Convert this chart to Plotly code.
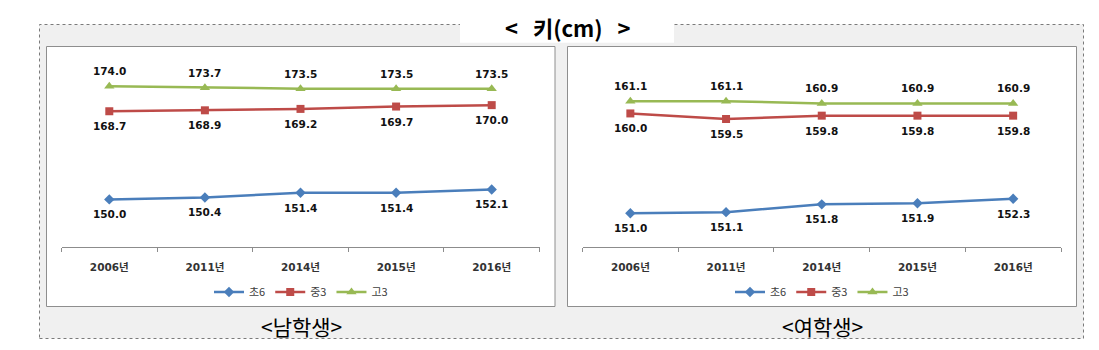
import plotly.graph_objects as go

W, H = 1099, 350

# ---- data ----
years = ["2006년", "2011년", "2014년", "2015년", "2016년"]
series_names = ["초6", "중3", "고3"]

boys_elem6 = [150.0, 150.4, 151.4, 151.4, 152.1]
boys_mid3 = [168.7, 168.9, 169.2, 169.7, 170.0]
boys_high3 = [174.0, 173.7, 173.5, 173.5, 173.5]

girls_elem6 = [151.0, 151.1, 151.8, 151.9, 152.3]
girls_mid3 = [160.0, 159.5, 159.8, 159.8, 159.8]
girls_high3 = [161.1, 161.1, 160.9, 160.9, 160.9]

title_text = "<\u00a0\u00a0 키(cm)\u00a0\u00a0 >"
captions = ["<남학생>", "<여학생>"]

# ---- styling ----
colors = ["#4a7ebb", "#be4b48", "#98b954"]
symbols = ["diamond", "square", "triangle-up"]
msizes = [8, 8, 9]
label_shift = [-15, -15, 15]   # value labels: below for 초6/중3, above for 고3
FONT = "DejaVu Sans, Noto Sans CJK KR, sans-serif"
CJK = "Noto Sans CJK KR, sans-serif"


def px(x):
    return x / W


def py(y):
    return 1 - y / H


fig = go.Figure()

panels = [
    dict(data=[boys_elem6, boys_mid3, boys_high3], xa="x", ya="y", legend="legend"),
    dict(data=[girls_elem6, girls_mid3, girls_high3], xa="x2", ya="y2", legend="legend2"),
]

for p in panels:
    for i, vals in enumerate(p["data"]):
        fig.add_trace(go.Scatter(
            x=years, y=vals, name=series_names[i],
            xaxis=p["xa"], yaxis=p["ya"], legend=p["legend"],
            mode="lines+markers",
            line=dict(color=colors[i], width=2.5),
            marker=dict(symbol=symbols[i], size=msizes[i], color=colors[i]),
            cliponaxis=False,
            hoverinfo="skip",
        ))
        for yr, v in zip(years, vals):
            fig.add_annotation(
                x=yr, y=v, xref=p["xa"], yref=p["ya"], text=f"{v:.1f}",
                showarrow=False, xanchor="center", yanchor="middle", yshift=label_shift[i],
                font=dict(family=FONT, size=10.5, color="#111111", weight="bold"),
            )

y_dom = [py(246.5), py(58)]
axis_common = dict(
    type="category", range=[-0.5, 4.5], showgrid=False, zeroline=False,
    showline=True, linecolor="#8c8c8c", linewidth=1,
    ticks="outside", ticklen=4, tickcolor="#8c8c8c", tickson="boundaries",
    tickfont=dict(family=FONT, size=10.5, color="#333333", weight="bold"),
    ticklabelstandoff=11, fixedrange=True,
)
yaxis_common = dict(visible=False, showgrid=False, zeroline=False, fixedrange=True)

fig.update_layout(
    width=W, height=H,
    margin=dict(l=0, r=0, t=0, b=0),
    paper_bgcolor="white", plot_bgcolor="rgba(0,0,0,0)",
    xaxis=dict(domain=[px(61.5), px(539.5)], anchor="y", **axis_common),
    yaxis=dict(domain=y_dom, anchor="x", range=[140, 180], **yaxis_common),
    xaxis2=dict(domain=[px(582.5), px(1061)], anchor="y2", **axis_common),
    yaxis2=dict(domain=y_dom, anchor="x2", range=[148, 165], **yaxis_common),
    legend=dict(orientation="h", x=px(301), y=py(292), xanchor="center", yanchor="middle",
                font=dict(family=CJK, size=11, color="#404040"), bgcolor="rgba(0,0,0,0)"),
    legend2=dict(orientation="h", x=px(822), y=py(292), xanchor="center", yanchor="middle",
                 font=dict(family=CJK, size=11, color="#404040"), bgcolor="rgba(0,0,0,0)"),
    showlegend=True,
)

# outer dotted frame, title backing, chart frames
fig.add_shape(type="rect", xref="paper", yref="paper", layer="below",
              x0=px(39.5), x1=px(1083.5), y0=py(338.5), y1=py(24.5),
              fillcolor="#f0f0f0", line=dict(color="#7a7a7a", width=1, dash="dot"))
fig.add_shape(type="rect", xref="paper", yref="paper", layer="below",
              x0=px(460), x1=px(674), y0=py(42.7), y1=py(0),
              fillcolor="white", line=dict(width=0))
for x0, x1 in [(46.5, 555), (567.5, 1076.5)]:
    fig.add_shape(type="rect", xref="paper", yref="paper", layer="below",
                  x0=px(x0), x1=px(x1), y0=py(306.5), y1=py(46.5),
                  fillcolor="white", line=dict(color="#8e8e8e", width=1))

fig.add_annotation(text=title_text, xref="paper", yref="paper",
                   x=px(568), y=py(27), xanchor="center", yanchor="middle", showarrow=False,
                   font=dict(family=CJK, size=22, color="#000000", weight="bold"))
for cx, cap in zip([301, 822], captions):
    fig.add_annotation(text=cap, xref="paper", yref="paper",
                       x=px(cx), y=py(326), xanchor="center", yanchor="middle", showarrow=False,
                       font=dict(family=CJK, size=21, color="#000000"))

fig.write_html("out.html")
